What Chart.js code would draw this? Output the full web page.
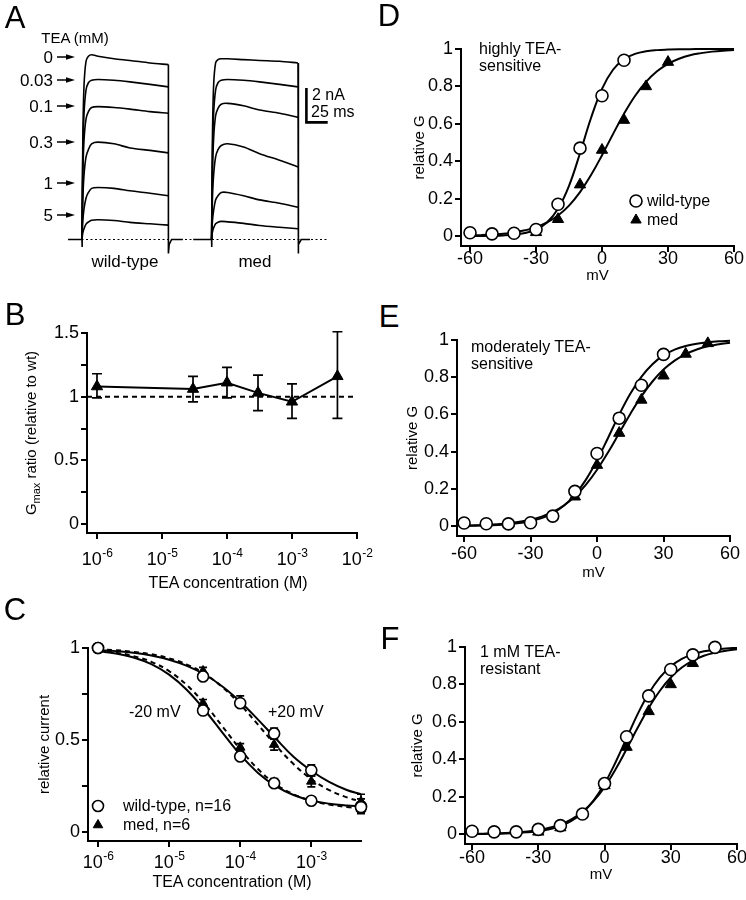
<!DOCTYPE html>
<html>
<head>
<meta charset="utf-8">
<script src="https://cdn.jsdelivr.net/npm/chart.js@4.4.0/dist/chart.umd.min.js"></script>
<style>
  body { margin: 0; background: #fff; }
  #fig { position: relative; width: 746px; height: 900px; overflow: hidden;
         font-family: "Liberation Sans", Arial, sans-serif; color: #000; }
  #fig canvas { position: absolute; }
  .t { position: absolute; white-space: nowrap; line-height: 1; }
</style>
</head>
<body>
<div id="fig"></div>
<script>
// ---------- data ----------
// A: current traces, time in ms, current in nA
const teaLabels = ['0', '0.03', '0.1', '0.3', '1', '5'];
const wtTimes = [0, 1, 2.5, 5, 8, 12, 20, 40, 60, 85, 108];
const medTimes = [162, 163, 164.5, 167, 170, 174, 182, 202, 222, 247, 270];
const wtTraces = [
  [0, 6.0, 9.3, 10.8, 11.1, 11.2, 11.1, 10.95, 10.85, 10.7, 10.6],
  [0, 4.9, 7.6, 9.05, 9.5, 9.65, 9.7, 9.65, 9.55, 9.4, 9.25],
  [0, 3.8, 6.0, 7.3, 7.75, 8.0, 8.05, 8.0, 7.9, 7.75, 7.65],
  [0, 2.4, 3.9, 5.0, 5.45, 5.8, 5.9, 5.8, 5.55, 5.4, 5.25],
  [0, 1.1, 1.85, 2.5, 2.85, 3.1, 3.15, 3.1, 2.95, 2.8, 2.65],
  [0, 0.4, 0.65, 0.93, 1.06, 1.17, 1.2, 1.15, 1.04, 0.95, 0.87]
];
const medTraces = [
  [0, 6.0, 9.3, 10.7, 10.9, 10.95, 10.95, 10.9, 10.85, 10.8, 10.7],
  [0, 4.9, 7.6, 9.05, 9.5, 9.65, 9.7, 9.65, 9.55, 9.4, 9.25],
  [0, 3.8, 6.1, 7.5, 7.95, 8.2, 8.25, 8.1, 7.85, 7.65, 7.4],
  [0, 2.4, 3.9, 5.0, 5.45, 5.7, 5.8, 5.6, 5.2, 4.8, 4.4],
  [0, 1.1, 1.75, 2.4, 2.65, 2.85, 2.85, 2.65, 2.4, 2.2, 1.95],
  [0, 0.45, 0.7, 0.95, 1.05, 1.1, 1.07, 0.98, 0.85, 0.74, 0.65]
];
const wtPreT = [-17.5, 0, 0, 0.4], wtPreI = [0, 0, -0.45, 0];
const wtTailT = [108, 108, 109, 112, 126], wtTailI = [10.6, -0.85, -0.3, 0, 0];
const medPreT = [139, 162, 162, 162.4], medPreI = [0, 0, -0.45, 0];
const medTailT = [270, 270, 271, 274, 285], medTailI = [10.7, -0.85, -0.3, 0, 0];
const zeroT = [-17.5, 306], zeroI = [0, 0];
const scaleBarT = [280.5, 280.5, 305.5], scaleBarI = [9.1, 7.1, 7.1]; // 2 nA, 25 ms

// B: Gmax ratio
const bConc = [1e-6, 3e-5, 1e-4, 3e-4, 1e-3, 5e-3];
const bRatio = [1.08, 1.06, 1.11, 1.03, 0.96, 1.16];
const bLow = [0.99, 0.96, 0.99, 0.89, 0.83, 0.83];
const bHigh = [1.18, 1.16, 1.23, 1.17, 1.10, 1.51];
const bRefX = [7.02e-7, 1e-2], bRefY = [1, 1];
const bYTicks = [0, 0.25, 0.5, 0.75, 1, 1.25, 1.5];
const bYLabels = ['0', '', '0.5', '', '1', '', '1.5'];
const bXTicks = [1e-6, 1e-5, 1e-4, 1e-3, 1e-2];

// C: dose-response
const cConc = [1e-6, 3e-5, 1e-4, 3e-4, 1e-3, 5e-3];
const cWtM20 = [1.0, 0.66, 0.41, 0.265, 0.17, 0.135];
const cWtP20 = [1.0, 0.845, 0.70, 0.535, 0.335, 0.14];
const cMedM20 = [1.0, 0.70, 0.46, 0.27, 0.17, 0.125];
const cMedP20 = [1.0, 0.875, 0.715, 0.475, 0.275, 0.165];
const cWtM20Sem = [0, 0.02, 0.015, 0.015, 0.01, 0.01];
const cWtP20Sem = [0, 0.02, 0.02, 0.03, 0.03, 0.04];
const cMedM20Sem = [0, 0.02, 0.02, 0.02, 0.015, 0.02];
const cMedP20Sem = [0, 0.02, 0.025, 0.03, 0.03, 0.04];
const cFitConc = [1e-6, 1.78e-6, 3.16e-6, 5.62e-6, 1e-5, 1.78e-5, 3.16e-5, 5.62e-5,
                  1e-4, 1.78e-4, 3.16e-4, 5.62e-4, 1e-3, 1.78e-3, 3.16e-3, 5e-3];
const cWtM20Fit = [0.983, 0.970, 0.948, 0.912, 0.855, 0.772, 0.663, 0.540, 0.420, 0.321, 0.249, 0.201, 0.171, 0.154, 0.144, 0.139];
const cMedM20Fit = [0.986, 0.975, 0.956, 0.925, 0.874, 0.798, 0.696, 0.574, 0.450, 0.342, 0.260, 0.205, 0.170, 0.149, 0.136, 0.130];
const cWtP20Fit = [0.989, 0.983, 0.974, 0.959, 0.936, 0.903, 0.856, 0.791, 0.708, 0.611, 0.508, 0.409, 0.333, 0.272, 0.228, 0.205];
const cMedP20Fit = [0.993, 0.988, 0.979, 0.966, 0.944, 0.910, 0.860, 0.787, 0.693, 0.583, 0.471, 0.369, 0.287, 0.228, 0.188, 0.166];
const cYTicks = [0, 0.25, 0.5, 0.75, 1];
const cYLabels = ['0', '', '0.5', '', '1'];
const cXTicks = [1e-6, 1e-5, 1e-4, 1e-3];

// D-F: activation curves
const gvXTicks = [-60, -30, 0, 30, 60];
const gvYTicks = [0, 0.2, 0.4, 0.6, 0.8, 1];
const fitV = [-60, -55, -50, -45, -40, -35, -30, -25, -20, -15, -10, -5, 0, 5, 10, 15, 20, 25, 30, 35, 40, 45, 50, 55, 60];

const dWtV = [-60, -50, -40, -30, -20, -10, 0, 10];
const dWt = [0.018, 0.012, 0.015, 0.035, 0.17, 0.47, 0.75, 0.94];
const dMedV = [-30, -20, -10, 0, 10, 20, 30];
const dMed = [0.02, 0.09, 0.275, 0.46, 0.62, 0.80, 0.93];
const dWtFit = [0.0004, 0.0008, 0.0017, 0.0036, 0.0078, 0.0167, 0.0353, 0.073, 0.146, 0.269, 0.443, 0.631, 0.787, 0.889, 0.945, 0.974, 0.988, 0.994, 0.997, 0.999, 0.999, 1.0, 1.0, 1.0, 1.0];
const dMedFit = [0.0032, 0.0051, 0.008, 0.0126, 0.0197, 0.0307, 0.047, 0.0727, 0.11, 0.163, 0.235, 0.326, 0.432, 0.545, 0.654, 0.749, 0.824, 0.881, 0.921, 0.948, 0.967, 0.978, 0.986, 0.991, 0.994];

const eWtV = [-60, -50, -40, -30, -20, -10, 0, 10, 20, 30];
const eWt = [0.017, 0.013, 0.012, 0.018, 0.054, 0.187, 0.39, 0.58, 0.757, 0.923];
const eMedV = [-10, 0, 10, 20, 30, 40, 50];
const eMed = [0.158, 0.328, 0.50, 0.678, 0.808, 0.925, 0.982];
const eWtFit = [0.0014, 0.0022, 0.0037, 0.006, 0.01, 0.0163, 0.0266, 0.0431, 0.0692, 0.109, 0.168, 0.25, 0.354, 0.475, 0.599, 0.711, 0.802, 0.870, 0.917, 0.948, 0.968, 0.980, 0.988, 0.993, 0.996];
const eMedFit = [0.0029, 0.0044, 0.0067, 0.0101, 0.0153, 0.023, 0.0345, 0.0513, 0.0759, 0.111, 0.159, 0.223, 0.303, 0.397, 0.5, 0.603, 0.697, 0.777, 0.841, 0.889, 0.924, 0.949, 0.966, 0.977, 0.985];

const fWtV = [-60, -50, -40, -30, -20, -10, 0, 10, 20, 30, 40, 50];
const fWt = [0.015, 0.012, 0.012, 0.025, 0.045, 0.107, 0.27, 0.52, 0.739, 0.88, 0.958, 0.998];
const fMedV = [-30, -20, 0, 10, 20, 30, 40];
const fMed = [0.012, 0.035, 0.26, 0.465, 0.656, 0.80, 0.913];
const fWtFit = [0.0007, 0.0011, 0.0019, 0.0032, 0.0054, 0.0092, 0.0154, 0.0258, 0.043, 0.0705, 0.114, 0.179, 0.269, 0.384, 0.513, 0.641, 0.751, 0.836, 0.896, 0.936, 0.961, 0.977, 0.986, 0.992, 0.995];
const fMedFit = [0.0014, 0.0023, 0.0036, 0.0056, 0.0088, 0.0138, 0.0215, 0.0335, 0.0517, 0.0791, 0.119, 0.176, 0.251, 0.346, 0.455, 0.568, 0.674, 0.765, 0.837, 0.89, 0.927, 0.953, 0.969, 0.98, 0.9875];

// ---------- helpers ----------
const FONT = '"Liberation Sans", Arial, sans-serif';
Chart.defaults.font.family = FONT;
Chart.defaults.color = '#000';
const fig = document.getElementById('fig');
const xy = (xs, ys) => xs.map((x, i) => ({ x, y: ys[i] }));

function addCanvas(left, top, w, h) {
  const c = document.createElement('canvas');
  c.width = w; c.height = h;
  c.style.left = left + 'px'; c.style.top = top + 'px';
  c.style.width = w + 'px'; c.style.height = h + 'px';
  fig.appendChild(c);
  return c;
}

function text(str, x, y, size, anchor, html) {
  const d = document.createElement('div');
  d.className = 't';
  if (html) d.innerHTML = str; else d.textContent = str;
  d.style.left = x + 'px';
  d.style.top = y + 'px';
  d.style.fontSize = size + 'px';
  const tx = anchor === 'c' ? -50 : anchor === 'r' ? -100 : 0;
  d.style.transform = `translate(${tx}%, -50%)`;
  fig.appendChild(d);
  return d;
}

const line = (data, opts) => Object.assign({
  data, borderColor: '#000', borderWidth: 2, pointRadius: 0, tension: 0,
  fill: false, clip: false, order: 2
}, opts);
const circles = (data, r) => ({
  data, showLine: false, pointStyle: 'circle', pointRadius: r, borderWidth: 1.6,
  pointBackgroundColor: '#fff', pointBorderColor: '#000', clip: false, order: 0
});
const triangles = (data, r) => ({
  data, showLine: false, pointStyle: 'triangle', pointRadius: r, borderWidth: 1,
  pointBackgroundColor: '#000', pointBorderColor: '#000', clip: false, order: 1
});

// error bars: dataset.errLo / dataset.errHi hold absolute y values
const errorBars = {
  id: 'errorBars',
  beforeDatasetsDraw(chart, args, opts) {
    const { ctx } = chart, ys = chart.scales.y;
    chart.data.datasets.forEach((ds, i) => {
      if (!ds.errHi) return;
      const meta = chart.getDatasetMeta(i);
      ctx.save();
      ctx.strokeStyle = '#000';
      ctx.lineWidth = 1.7;
      meta.data.forEach((pt, j) => {
        const yTop = ys.getPixelForValue(ds.errHi[j]);
        const yBot = ys.getPixelForValue(ds.errLo[j]);
        const cap = opts.cap || 5;
        ctx.beginPath();
        ctx.moveTo(pt.x, yTop); ctx.lineTo(pt.x, yBot);
        ctx.moveTo(pt.x - cap, yTop); ctx.lineTo(pt.x + cap, yTop);
        ctx.moveTo(pt.x - cap, yBot); ctx.lineTo(pt.x + cap, yBot);
        ctx.stroke();
      });
      ctx.restore();
    });
  }
};

// 10^n tick labels under a log axis
const pow10Ticks = {
  id: 'pow10Ticks',
  afterDraw(chart, args, opts) {
    if (!opts.dy) return;
    const s = chart.scales.x, ctx = chart.ctx;
    ctx.save();
    ctx.fillStyle = '#000';
    ctx.textAlign = 'left';
    ctx.textBaseline = 'alphabetic';
    s.ticks.forEach(t => {
      const sup = String(Math.round(Math.log10(t.value)));
      ctx.font = `18px ${FONT}`;
      const wb = ctx.measureText('10').width;
      ctx.font = `12px ${FONT}`;
      const ws = ctx.measureText(sup).width;
      const x0 = s.getPixelForValue(t.value) - (wb + ws) / 2;
      const y = s.top + opts.dy;
      ctx.font = `18px ${FONT}`;
      ctx.fillText('10', x0, y);
      ctx.font = `12px ${FONT}`;
      ctx.fillText(sup, x0 + wb + 0.5, y - 8);
    });
    ctx.restore();
  }
};

// legend markers drawn at page positions
const legendMarks = {
  id: 'legendMarks',
  afterDraw(chart, args, opts) {
    if (!opts.items) return;
    const ctx = chart.ctx, ox = chart.canvas.offsetLeft, oy = chart.canvas.offsetTop;
    opts.items.forEach(it => {
      ctx.save();
      ctx.fillStyle = it.fill;
      ctx.strokeStyle = '#000';
      ctx.lineWidth = it.style === 'circle' ? 1.6 : 1;
      Chart.helpers.drawPoint(ctx, { pointStyle: it.style, radius: it.r, rotation: 0, borderWidth: ctx.lineWidth }, it.x - ox, it.y - oy);
      ctx.restore();
    });
  }
};

function axis(type, min, max, ticks, labelFn, title, pad) {
  return {
    type, min, max,
    afterBuildTicks: s => { s.ticks = ticks.map(v => ({ value: v })); },
    ticks: { callback: labelFn, font: { size: 18 }, color: '#000', padding: pad === undefined ? 2 : pad, autoSkip: false, maxRotation: 0 },
    grid: { display: true, drawOnChartArea: false, drawTicks: true, tickLength: 6, color: '#000', lineWidth: 2 },
    border: { display: true, color: '#000', width: 2 },
    title: title ? { display: true, text: title, font: { size: 15 }, color: '#000', padding: 0 } : { display: false }
  };
}

// area = [left, top, right, bottom] of the plot frame in page px
function panel(area, yw, xh, xScale, yScale, datasets, pluginOpts) {
  const padT = 16, padR = 16;
  const left = area[0] - yw, top = area[1] - padT;
  const w = area[2] - left + padR, h = area[3] + xh - top;
  const c = addCanvas(left, top, w, h);
  xScale.afterFit = s => { s.height = xh; };
  yScale.afterFit = s => { s.width = yw; };
  return new Chart(c, {
    type: 'line',
    data: { datasets },
    options: {
      animation: false, responsive: false, devicePixelRatio: 1,
      layout: { padding: { top: padT, right: padR, left: 0, bottom: 0 } },
      plugins: Object.assign({ legend: { display: false }, tooltip: { enabled: false } }, pluginOpts || {}),
      scales: { x: xScale, y: yScale }
    },
    plugins: [errorBars, pow10Ticks, legendMarks]
  });
}

// ---------- panel A ----------
{
  const c = addCanvas(0, 40, 340, 218);
  const trace = (ts, vs) => line(xy(ts, vs), { borderWidth: 1.6, tension: 0.3 });
  const ds = [];
  wtTraces.forEach(v => ds.push(trace(wtTimes, v)));
  medTraces.forEach(v => ds.push(trace(medTimes, v)));
  ds.push(line(xy(wtPreT, wtPreI), { borderWidth: 1.6 }));
  ds.push(line(xy(wtTailT, wtTailI), { borderWidth: 1.6 }));
  ds.push(line(xy(medPreT, medPreI), { borderWidth: 1.6 }));
  ds.push(line(xy(medTailT, medTailI), { borderWidth: 1.6 }));
  ds.push(line(xy(zeroT, zeroI), { borderWidth: 1.2, borderDash: [2, 2.5] }));
  ds.push(line(xy(scaleBarT, scaleBarI), { borderWidth: 2.6, borderCapStyle: 'square' }));
  const arrows = {
    id: 'arrows',
    afterDraw(chart) {
      const ctx = chart.ctx;
      ctx.save();
      ctx.strokeStyle = '#000'; ctx.fillStyle = '#000'; ctx.lineWidth = 1.5;
      [57, 80, 106, 142, 183, 215].forEach(py => {
        const y = py - 40;
        ctx.beginPath(); ctx.moveTo(57, y); ctx.lineTo(68, y); ctx.stroke();
        ctx.beginPath(); ctx.moveTo(75, y); ctx.lineTo(66, y - 2.8); ctx.lineTo(66, y + 2.8); ctx.closePath(); ctx.fill();
      });
      ctx.restore();
    }
  };
  new Chart(c, {
    type: 'line',
    data: { datasets: ds },
    options: {
      animation: false, responsive: false, devicePixelRatio: 1,
      layout: { padding: 0 },
      plugins: { legend: { display: false }, tooltip: { enabled: false } },
      scales: {
        x: { type: 'linear', display: false, min: -102.5, max: 322.5 },
        y: { type: 'linear', display: false, min: -1.121, max: 12.09 }
      }
    },
    plugins: [arrows]
  });
  text('TEA (mM)', 75, 37, 15, 'c');
  [57, 80, 106, 142, 183, 215].forEach((y, i) => text(teaLabels[i], 53, y, 17, 'r'));
  text('wild-type', 125, 261, 17, 'c');
  text('med', 255, 261, 17, 'c');
  text('2 nA', 312, 95, 16, 'l');
  text('25 ms', 311, 112, 16, 'l');
}

// ---------- panel B ----------
{
  const pts = Object.assign(line(xy(bConc, bRatio), {
    showLine: true, pointStyle: 'triangle', pointRadius: 6.5,
    pointBackgroundColor: '#000', pointBorderColor: '#000', pointBorderWidth: 1, order: 1
  }), { errLo: bLow, errHi: bHigh });
  panel([87, 333, 357, 533], 64, 50,
    axis('logarithmic', 7.02e-7, 1e-2, bXTicks, () => '', null),
    axis('linear', -0.07, 1.5, bYTicks, (v, i) => bYLabels[i], null),
    [pts, line(xy(bRefX, bRefY), { borderDash: [5, 4], order: 3 })],
    { errorBars: { cap: 5 }, pow10Ticks: { dy: 32 } });
  text('G<sub style="font-size:11px">max</sub> ratio (relative to wt)', 32, 433, 15, 'c', true)
    .style.transform = 'translate(-50%, -50%) rotate(-90deg)';
  text('TEA concentration (M)', 228, 583, 16, 'c');
}

// ---------- panel C ----------
{
  const withSem = (ds, vals, sem) => Object.assign(ds, {
    errHi: vals.map((v, i) => v + sem[i]), errLo: vals.map((v, i) => v - sem[i])
  });
  const dsC = [
    line(xy(cFitConc, cWtM20Fit), { tension: 0.4 }),
    line(xy(cFitConc, cWtP20Fit), { tension: 0.4 }),
    line(xy(cFitConc, cMedM20Fit), { tension: 0.4, borderDash: [5, 4] }),
    line(xy(cFitConc, cMedP20Fit), { tension: 0.4, borderDash: [5, 4] }),
    withSem(triangles(xy(cConc, cMedM20), 5.5), cMedM20, cMedM20Sem),
    withSem(triangles(xy(cConc, cMedP20), 5.5), cMedP20, cMedP20Sem),
    withSem(circles(xy(cConc, cWtM20), 5.5), cWtM20, cWtM20Sem),
    withSem(circles(xy(cConc, cWtP20), 5.5), cWtP20, cWtP20Sem)
  ];
  panel([88, 648, 361, 841], 52, 50,
    axis('logarithmic', 7.23e-7, 5e-3, cXTicks, () => '', null),
    axis('linear', -0.049, 1, cYTicks, (v, i) => cYLabels[i], 'relative current'),
    dsC,
    { errorBars: { cap: 4 }, pow10Ticks: { dy: 27 },
      legendMarks: { items: [
        { style: 'circle', r: 5.5, fill: '#fff', x: 98, y: 806 },
        { style: 'triangle', r: 5.5, fill: '#000', x: 98, y: 825 }] } });
  text('-20 mV', 129, 712, 16, 'l');
  text('+20 mV', 268, 712, 16, 'l');
  text('wild-type, n=16', 123, 806, 16, 'l');
  text('med, n=6', 123, 825, 16, 'l');
  text('TEA concentration (M)', 232, 882, 16, 'c');
}

// ---------- panels D, E, F ----------
function gvPanel(area, yw, xh, xmin, xpad, wtV, wt, medV, med, wtFit, medFit, legend) {
  return panel(area, yw, xh,
    axis('linear', xmin, 60, gvXTicks, v => String(v), 'mV', xpad),
    axis('linear', -0.053, 1, gvYTicks, v => String(v), 'relative G'),
    [line(xy(fitV, wtFit), { tension: 0.4 }),
     line(xy(fitV, medFit), { tension: 0.4 }),
     triangles(xy(medV, med), 6.5),
     circles(xy(wtV, wt), 6)],
    legend ? { legendMarks: { items: legend } } : {});
}

gvPanel([461, 49, 734, 246], 50, 39, -64.1, -3.5, dWtV, dWt, dMedV, dMed, dWtFit, dMedFit, [
  { style: 'circle', r: 6, fill: '#fff', x: 636, y: 201 },
  { style: 'triangle', r: 6, fill: '#000', x: 636, y: 220 }]);
text('highly TEA-', 479, 49, 16, 'l');
text('sensitive', 479, 66, 16, 'l');
text('wild-type', 647, 201, 16, 'l');
text('med', 647, 220, 16, 'l');

gvPanel([457, 340, 730, 536], 53, 46, -63.2, 1.5, eWtV, eWt, eMedV, eMed, eWtFit, eMedFit, null);
text('moderately TEA-', 471, 347, 16, 'l');
text('sensitive', 471, 364, 16, 'l');

gvPanel([465, 647, 737, 844], 56, 40, -63.2, -2.5, fWtV, fWt, fMedV, fMed, fWtFit, fMedFit, null);
text('1 mM TEA-', 480, 652, 16, 'l');
text('resistant', 480, 669, 16, 'l');

// panel letters
[['A', 15, 17], ['B', 15, 314], ['C', 15, 609], ['D', 389, 15], ['E', 389, 316], ['F', 390, 638]]
  .forEach(([s, x, y]) => text(s, x, y, 31, 'c'));
</script>
</body>
</html>
